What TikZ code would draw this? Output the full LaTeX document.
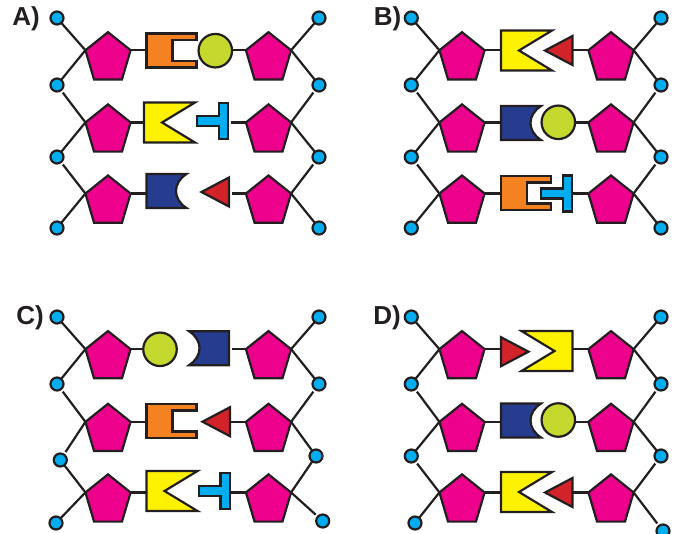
\documentclass[tikz,border=0pt]{standalone}
\usepackage{fontspec}
\setmainfont{Liberation Sans}
\usetikzlibrary{shapes.geometric}
\definecolor{inkline}{HTML}{231F20}
\definecolor{sugarpink}{HTML}{EC008C}
\definecolor{dotblue}{HTML}{00AEEF}
\definecolor{cuporange}{HTML}{F58220}
\definecolor{wedgeyellow}{HTML}{FFF200}
\definecolor{moonnavy}{HTML}{263C8E}
\definecolor{tipred}{HTML}{D2232A}
\definecolor{ballgreen}{HTML}{C4D82E}
\begin{document}
\begin{tikzpicture}[x=1pt, y=-1pt, line width=2.2pt]
        \tikzset{
            sugar/.style={draw=inkline, fill=sugarpink, regular polygon, regular polygon sides=5, minimum size=47.5pt, inner sep=0pt, outer sep=0pt, yscale=1.1, transform shape},
            dot/.style={draw=inkline, fill=dotblue, circle, minimum size=13pt, inner sep=0pt, outer sep=0pt},
            ball/.style={draw=inkline, fill=ballgreen, circle, minimum size=33.5pt, inner sep=0pt, outer sep=0pt},
            tag/.style={text=inkline, font=\fontsize{26}{26}\selectfont\bfseries, inner sep=0pt},
            bond/.style={draw=inkline},
            gapped/.style={draw=inkline, shorten >=3pt},
            cup/.pic={\draw[draw=inkline, fill=cuporange] (0,-17) -- (50,-17) -- (50,-10.5) -- (26,-10.5) -- (26,10.5) -- (50,10.5) -- (50,17) -- (0,17) -- cycle; \coordinate (-back) at (0,0);},
            wedge/.pic={\draw[draw=inkline, fill=wedgeyellow] (0,-20) -- (51,-20) -- (18,0) -- (51,20) -- (0,20) -- cycle; \coordinate (-back) at (0,0);},
            moon/.pic={\draw[draw=inkline, fill=moonnavy] (0,-17) -- (40,-17) .. controls (26,-8) and (26,8) .. (40,17) -- (0,17) -- cycle; \coordinate (-back) at (0,0);},
            tee/.pic={\draw[draw=inkline, fill=dotblue] (0,-18) -- (0,18) -- (-9.5,18) -- (-9.5,5) -- (-31,5) -- (-31,-5) -- (-9.5,-5) -- (-9.5,-18) -- cycle; \coordinate (-back) at (0,0);},
            tip/.pic={\draw[draw=inkline, fill=tipred] (0,-14.5) -- (27.5,0) -- (0,14.5) -- cycle; \coordinate (-back) at (0,0);}
        }
        \useasboundingbox (0,0) rectangle (687,533);

        \node[tag] (alabel) at (26,19) {A)};
        \node[tag] (blabel) at (387.5,19) {B)};
        \node[tag] (clabel) at (30,318) {C)};
        \node[tag] (dlabel) at (387,318) {D)};

        % sugars, two per row
        \foreach \n/\x/\y in {a1l/108/58.3, a1r/268.5/58.3, a2l/108/130.5, a2r/268.5/130.5, a3l/108/201.6, a3r/268.5/201.6,
                b1l/462/58.3, b1r/611/58.3, b2l/462/130.5, b2r/611/130.5, b3l/462/201.6, b3r/611/201.6,
                c1l/108/357.2, c1r/268.5/357.2, c2l/108/429.9, c2r/268.5/429.9, c3l/108/500.5, c3r/268.5/500.5,
                d1l/462/357.2, d1r/611/357.2, d2l/462/429.9, d2r/611/429.9, d3l/462/500.5, d3r/611/500.5}
            \node[sugar] (\n) at (\x,\y) {};

        % phosphate dots along both strands
        \foreach \n/\x/\y in {al1/57/18, al2/57/85, al3/57/157, al4/57/228, ar1/319/18, ar2/319/85, ar3/319/157, ar4/319/228,
                bl1/411.3/18, bl2/411.3/85, bl3/411.3/157, bl4/411.3/228, br1/661/18, br2/661/85, br3/661/157, br4/661/228,
                cl1/57/317, cl2/57/384, cl3/60.3/460, cl4/56/523, cr1/319/317, cr2/319/384, cr3/316/456, cr4/322.7/521,
                dl1/411.3/317, dl2/411.3/384, dl3/411.3/456, dl4/415/523, dr1/661/317, dr2/661/384, dr3/661/456, dr4/663/531}
            \node[dot] (\n) at (\x,\y) {};

        % backbone, left strands then right strands
        \foreach \s/\d/\k in {a1l/al1/bond, a1l/al2/bond, a2l/al2/gapped, a2l/al3/bond, a3l/al3/gapped, a3l/al4/bond,
                b1l/bl1/bond, b1l/bl2/bond, b2l/bl2/gapped, b2l/bl3/bond, b3l/bl3/gapped, b3l/bl4/bond,
                c1l/cl1/bond, c1l/cl2/bond, c2l/cl2/gapped, c2l/cl3/gapped, c3l/cl3/bond, c3l/cl4/bond,
                d1l/dl1/bond, d1l/dl2/bond, d2l/dl2/gapped, d2l/dl3/bond, d3l/dl3/gapped, d3l/dl4/bond}
            \draw[\k] (\s.corner 2) -- (\d);
        \foreach \s/\d/\k in {a1r/ar1/bond, a1r/ar2/bond, a2r/ar2/gapped, a2r/ar3/bond, a3r/ar3/gapped, a3r/ar4/bond,
                b1r/br1/bond, b1r/br2/bond, b2r/br2/gapped, b2r/br3/bond, b3r/br3/gapped, b3r/br4/bond,
                c1r/cr1/bond, c1r/cr2/bond, c2r/cr2/gapped, c2r/cr3/bond, c3r/cr3/bond, c3r/cr4/gapped,
                d1r/dr1/bond, d1r/dr2/bond, d2r/dr2/gapped, d2r/dr3/bond, d3r/dr3/gapped, d3r/dr4/gapped}
            \draw[\k] (\s.corner 5) -- (\d);

        % bases of A
        \pic (a1cup) at (146.5,50.5) {cup};
        \node[ball] (a1ball) at (215.3,50.7) {};
        \pic (a2wedge) at (144,122.5) {wedge};
        \pic (a2tee) at (228.2,121) {tee};
        \pic (a3moon) at (146.5,191) {moon};
        \pic[xscale=-1] (a3tip) at (229,192) {tip};

        % bases of B
        \pic (b1wedge) at (501,50.5) {wedge};
        \pic[xscale=-1] (b1tip) at (572.5,50.5) {tip};
        \pic (b2moon) at (501,123) {moon};
        \node[ball] (b2ball) at (558.3,122.3) {};
        \pic (b3cup) at (501,193) {cup};
        \pic (b3tee) at (572.2,193.5) {tee};

        % bases of C
        \node[ball] (c1ball) at (160,349.3) {};
        \pic[xscale=-1] (c1moon) at (229,348.2) {moon};
        \pic (c2cup) at (146.5,421) {cup};
        \pic[xscale=-1] (c2tip) at (230,421.7) {tip};
        \pic (c3wedge) at (146.5,491) {wedge};
        \pic (c3tee) at (230,491) {tee};

        % bases of D
        \pic (d1tip) at (501,351.7) {tip};
        \pic[xscale=-1] (d1wedge) at (572.5,351) {wedge};
        \pic (d2moon) at (501,420.5) {moon};
        \node[ball] (d2ball) at (558.3,420) {};
        \pic (d3wedge) at (501,492) {wedge};
        \pic[xscale=-1] (d3tip) at (572.5,492.5) {tip};

        % stubs from each sugar to its base
        \foreach \s/\c/\g/\k in {a1l/5/a1cup-back/bond, a1r/2/a1ball.east/bond, a2l/5/a2wedge-back/bond, a2r/2/a2tee-back/gapped, a3l/5/a3moon-back/bond, a3r/2/a3tip-back/gapped,
                b1l/5/b1wedge-back/bond, b1r/2/b1tip-back/bond, b2l/5/b2moon-back/bond, b2r/2/b2ball.east/bond, b3l/5/b3cup-back/bond, b3r/2/b3tee-back/bond,
                c1l/5/c1ball.west/bond, c1r/2/c1moon-back/gapped, c2l/5/c2cup-back/bond, c2r/2/c2tip-back/bond, c3l/5/c3wedge-back/bond, c3r/2/c3tee-back/bond,
                d1l/5/d1tip-back/bond, d1r/2/d1wedge-back/bond, d2l/5/d2moon-back/bond, d2r/2/d2ball.east/bond, d3l/5/d3wedge-back/bond, d3r/2/d3tip-back/bond}
            \draw[\k] (\s.corner \c) -- (\s.corner \c -| \g);
    \end{tikzpicture}
\end{document}
